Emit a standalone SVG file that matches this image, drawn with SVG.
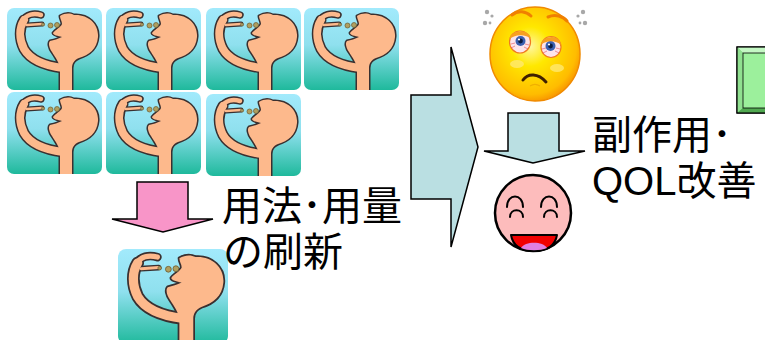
<svg xmlns="http://www.w3.org/2000/svg" xmlns:xlink="http://www.w3.org/1999/xlink" width="765" height="340" viewBox="0 0 765 340">
  <style>
    .label { font-family: "Liberation Sans", "Noto Sans CJK JP", sans-serif; font-size: 40px; fill: #000; }
    .block-arrow { stroke: #000; stroke-width: 1.5; stroke-linejoin: miter; }
    .skin-line { fill: none; stroke: #3a3030; stroke-linecap: round; stroke-linejoin: round; }
    .skin-fill { fill: none; stroke: #fdb98c; stroke-linecap: round; stroke-linejoin: round; }
    .eye-arc { fill: none; stroke: #000; stroke-width: 2; stroke-linecap: round; }
  </style>
  <defs>
    <linearGradient id="tileSky" x1="0" y1="0" x2="0" y2="1">
      <stop offset="0" stop-color="#a2eafc"/>
      <stop offset="0.45" stop-color="#8fe0ee"/>
      <stop offset="1" stop-color="#1fb99c"/>
    </linearGradient>
    <clipPath id="tileClip">
      <rect width="95" height="82" rx="7"/>
    </clipPath>
    <radialGradient id="sunFace" cx="0.45" cy="0.42" r="0.6">
      <stop offset="0" stop-color="#fff7a0"/>
      <stop offset="0.35" stop-color="#ffe800"/>
      <stop offset="0.85" stop-color="#ffbc00"/>
      <stop offset="1" stop-color="#f89400"/>
    </radialGradient>

    <!-- person swallowing pills, 95x82 tile -->
    <g id="pillTaker">
      <rect width="95" height="82" rx="7" fill="url(#tileSky)"/>
      <g clip-path="url(#tileClip)">
        <!-- dark outline layer -->
        <path class="skin-line" stroke-width="11" d="M56,60 C40,58 24,53 17,41 C12,31 12,20 17,12"/>
        <path class="skin-line" stroke-width="7.5" d="M16,13 C19,6 27,5 34,7"/>
        <path class="skin-line" stroke-width="5" d="M20,17 L35,16"/>
        <path fill="#3a3030" stroke="#3a3030" stroke-width="3" stroke-linejoin="round"
              d="M53,8 C58,5 63,5 67,7 C81,6 92,16 91,29 C90,41 82,47 72,50 C67,52 65,56 65,60 L65,86 L53,86 L53,62 C53,55 48,49 45,44 C42,40 41,35 43,33 C47,32 51,31 55,29 C51,28 46,27 46,25 C48,22 54,19 55,16 C55,13 53,11 53,8 Z"/>
        <!-- skin layer -->
        <path class="skin-fill" stroke-width="8" d="M56,60 C40,58 24,53 17,41 C12,31 12,20 17,12"/>
        <path class="skin-fill" stroke-width="4.5" d="M16,13 C19,6 27,5 34,7"/>
        <path class="skin-fill" stroke-width="2.5" d="M20,17 L35,16"/>
        <path fill="#fdb98c"
              d="M53,8 C58,5 63,5 67,7 C81,6 92,16 91,29 C90,41 82,47 72,50 C67,52 65,56 65,60 L65,86 L53,86 L53,62 C53,55 48,49 45,44 C42,40 41,35 43,33 C47,32 51,31 55,29 C51,28 46,27 46,25 C48,22 54,19 55,16 C55,13 53,11 53,8 Z"/>
        <!-- pills -->
        <circle cx="36" cy="16.5" r="1.6" fill="#a89860" stroke="#6a5a30" stroke-width="0.6"/>
        <circle cx="43.5" cy="17.5" r="2.5" fill="#b0a060" stroke="#6a5a30" stroke-width="0.7"/>
        <circle cx="50" cy="17" r="2.5" fill="#b0a060" stroke="#6a5a30" stroke-width="0.7"/>
      </g>
    </g>
  </defs>

  <rect width="765" height="340" fill="#fff"/>

  <!-- current regimen: seven pill tiles -->
  <g id="patient-1" transform="translate(7,8)"><use href="#pillTaker"/></g>
  <g id="patient-2" transform="translate(106,8)"><use href="#pillTaker"/></g>
  <g id="patient-3" transform="translate(206,8)"><use href="#pillTaker"/></g>
  <g id="patient-4" transform="translate(304,8)"><use href="#pillTaker"/></g>
  <g id="patient-5" transform="translate(7,92)"><use href="#pillTaker"/></g>
  <g id="patient-6" transform="translate(106,92)"><use href="#pillTaker"/></g>
  <g id="patient-7" transform="translate(206,94)"><use href="#pillTaker"/></g>

  <!-- simplified regimen -->
  <g id="patient-new" transform="translate(118,249) scale(1.158)"><use href="#pillTaker"/></g>

  <!-- connectors -->
  <g id="connectors">
    <polygon class="block-arrow" fill="#f895c8" points="137,182 188,182 188,219 213,219 163,232 112,219 137,219"/>
    <polygon class="block-arrow" fill="#badfe2" points="411,95 451,95 451,47 478,147 451,247 451,199 411,199"/>
    <polygon class="block-arrow" fill="#badfe2" points="508,113 559,113 559,151 585,151 533,163 484,151 508,151"/>
  </g>

  <!-- labels -->
  <g id="label-dosage">
    <text class="label" x="222" y="220">用法･用量</text>
    <text class="label" x="223" y="266">の刷新</text>
  </g>
  <g id="label-qol">
    <text class="label" x="592" y="149">副作用･</text>
    <text class="label" x="592" y="195">QOL改善</text>
  </g>

  <!-- tired face -->
  <g id="face-tired">
    <g fill="#a8a8a8">
      <circle cx="487" cy="12" r="2.2"/><circle cx="492" cy="16" r="1.6"/>
      <circle cx="485" cy="23" r="2.2"/><circle cx="490" cy="23" r="1.4"/>
      <circle cx="583" cy="12" r="2.2"/><circle cx="578" cy="16" r="1.6"/>
      <circle cx="585" cy="23" r="2.2"/><circle cx="580" cy="23" r="1.4"/>
    </g>
    <ellipse cx="535" cy="54" rx="45" ry="47" fill="url(#sunFace)" stroke="#f08a00" stroke-width="1.5"/>
    <ellipse cx="517" cy="64" rx="7" ry="4" fill="#ffe870" opacity="0.8"/>
    <ellipse cx="557" cy="68" rx="7" ry="4" fill="#ffe870" opacity="0.8"/>
    <!-- brows -->
    <path d="M512,15 C518,10 526,11 531,16" fill="none" stroke="#f08000" stroke-width="3" stroke-linecap="round"/>
    <path d="M548,17 C555,14 563,16 567,21" fill="none" stroke="#f08000" stroke-width="3" stroke-linecap="round"/>
    <!-- eyes -->
    <ellipse cx="520" cy="42" rx="10.5" ry="11" fill="#fde4ea" stroke="#f07a20" stroke-width="1.2"/>
    <ellipse cx="551" cy="47" rx="10" ry="10.5" fill="#fde4ea" stroke="#f07a20" stroke-width="1.2"/>
    <g stroke="#e05060" stroke-width="0.6" fill="none">
      <path d="M511,44 l4,-1 M511,48 l4,-2 M529,45 l-4,-1 M528,49 l-4,-2"/>
      <path d="M542,49 l4,-1 M543,53 l4,-2 M560,49 l-4,-1 M559,53 l-4,-2"/>
    </g>
    <circle cx="520.5" cy="41" r="5" fill="#3a60b0"/>
    <circle cx="520.5" cy="41" r="2.4" fill="#0c1c40"/>
    <circle cx="519" cy="39.5" r="1.1" fill="#fff"/>
    <circle cx="550.5" cy="46" r="5" fill="#3a60b0"/>
    <circle cx="550.5" cy="46" r="2.4" fill="#0c1c40"/>
    <circle cx="549" cy="44.5" r="1.1" fill="#fff"/>
    <!-- droopy lids -->
    <path d="M509,40 C510,29 530,28 531,39 C526,34 514,34 509,40 Z" fill="#f8a020"/>
    <path d="M541,45 C542,35 560,34 561,45 C556,40 546,40 541,45 Z" fill="#f8a020"/>
    <!-- frown -->
    <path d="M523,80 C528,73 538,73 546,82" fill="none" stroke="#402000" stroke-width="3" stroke-linecap="round"/>
    <path d="M530,86 C533,84 537,84 540,86" fill="none" stroke="#f0b000" stroke-width="1.2"/>
  </g>

  <!-- happy face -->
  <g id="face-happy">
    <circle cx="533" cy="213" r="38" fill="#fdbcbc" stroke="#000" stroke-width="2.5"/>
    <path class="eye-arc" d="M507,207 C507,193 523,193 523,207 M510,217 C510,208 523,208 523,217"/>
    <path class="eye-arc" d="M541,207 C541,193 557,193 557,207 M544,217 C544,208 557,208 557,217"/>
    <path d="M511,235 L557,235 C555,247 545,251 534,251 C522,251 513,247 511,235 Z" fill="#f00000" stroke="#000" stroke-width="2" stroke-linejoin="round"/>
    <path d="M521,248 C525,241 543,241 547,248 C540,251 528,251 521,248 Z" fill="#e080e0"/>
  </g>

  <!-- next step box -->
  <g id="step-box">
    <rect x="737" y="47" width="40" height="66" fill="#6cd06c" stroke="#000" stroke-width="1.2"/>
    <polygon points="737,47 777,47 777,53 743,53" fill="#c4f8c4"/>
    <polygon points="737,47 743,53 743,108 737,113" fill="#90e090"/>
    <polygon points="737,113 743,108 777,108 777,113" fill="#50a850"/>
    <rect x="743" y="53" width="30" height="55" fill="#9cf09c" stroke="#000" stroke-width="0.8"/>
    <rect x="737" y="47" width="40" height="66" fill="none" stroke="#000" stroke-width="1.2"/>
  </g>
</svg>
